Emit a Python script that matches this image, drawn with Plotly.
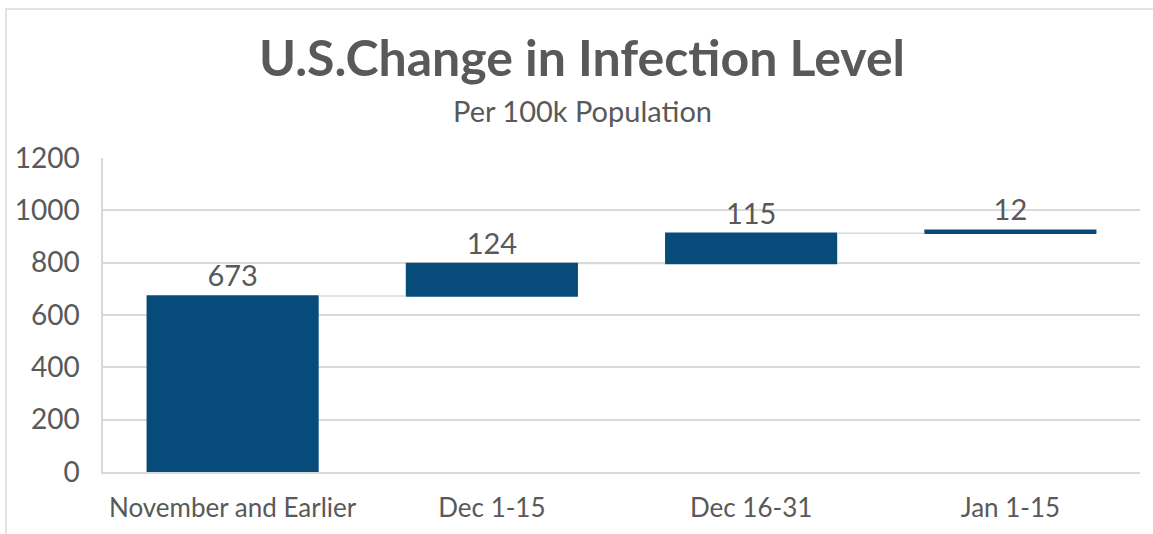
import plotly.graph_objects as go

categories = ["November and Earlier", "Dec 1-15", "Dec 16-31", "Jan 1-15"]
values = [673, 124, 115, 12]
measures = ["absolute", "relative", "relative", "relative"]
y_ticks = [0, 200, 400, 600, 800, 1000, 1200]

BAR = "#074B7A"
GRID = "#D9D9D9"
TXT = "#595959"
FONT = "Lato"

fig = go.Figure(go.Waterfall(
    x=categories,
    y=values,
    measure=measures,
    text=[str(v) for v in values],
    textposition="outside",
    textfont=dict(family=FONT, size=29, color=TXT),
    increasing=dict(marker=dict(color=BAR)),
    decreasing=dict(marker=dict(color=BAR)),
    totals=dict(marker=dict(color=BAR)),
    connector=dict(line=dict(color=GRID, width=1.5), mode="between"),
    cliponaxis=False,
    hoverinfo="skip",
))

W, H = 1153, 534
L, R, T, B = 103, 13, 158, 62
pw, ph = W - L - R, H - T - B

fig.update_layout(
    width=W, height=H,
    margin=dict(l=L, r=R, t=T, b=B, pad=0),
    paper_bgcolor="white", plot_bgcolor="white",
    showlegend=False,
    waterfallgap=0.336,
    title=dict(
        text="<b>U.S.Change in Infection Level</b>",
        x=(582 - L) / pw, xref="paper", xanchor="center",
        y=1 - 58 / H, yref="container", yanchor="middle",
        font=dict(family=FONT, size=50, color=TXT),
    ),
    annotations=[dict(
        text="Per 100k Population", xref="paper", yref="paper",
        x=(582 - L) / pw, y=(H - B - 110) / ph, xanchor="center", yanchor="middle",
        showarrow=False, font=dict(family=FONT, size=29, color=TXT),
    )],
    shapes=[dict(
        type="rect", xref="paper", yref="paper",
        x0=(6 - L) / pw, x1=(1160 - L) / pw,
        y0=(H - B - 540) / ph, y1=(H - B - 9) / ph,
        line=dict(color=GRID, width=1.5), fillcolor="rgba(0,0,0,0)", layer="below",
    )],
)

fig.update_yaxes(
    range=[0, 1200], tickvals=y_ticks, ticktext=[str(v) for v in y_ticks],
    showgrid=True, gridcolor=GRID, gridwidth=1.5,
    showline=True, linecolor=GRID, linewidth=1.5,
    zeroline=False, ticks="", ticklabelstandoff=16,
    tickfont=dict(family=FONT, size=28, color=TXT),
)
fig.update_xaxes(
    showline=True, linecolor=GRID, linewidth=1.5, showgrid=False,
    ticks="", ticklabelstandoff=12,
    tickfont=dict(family=FONT, size=26, color=TXT),
)

fig.write_html(
    "out.html",
    config={"displayModeBar": False},
    post_script="document.body.style.margin='0';document.body.style.overflow='hidden';",
)
